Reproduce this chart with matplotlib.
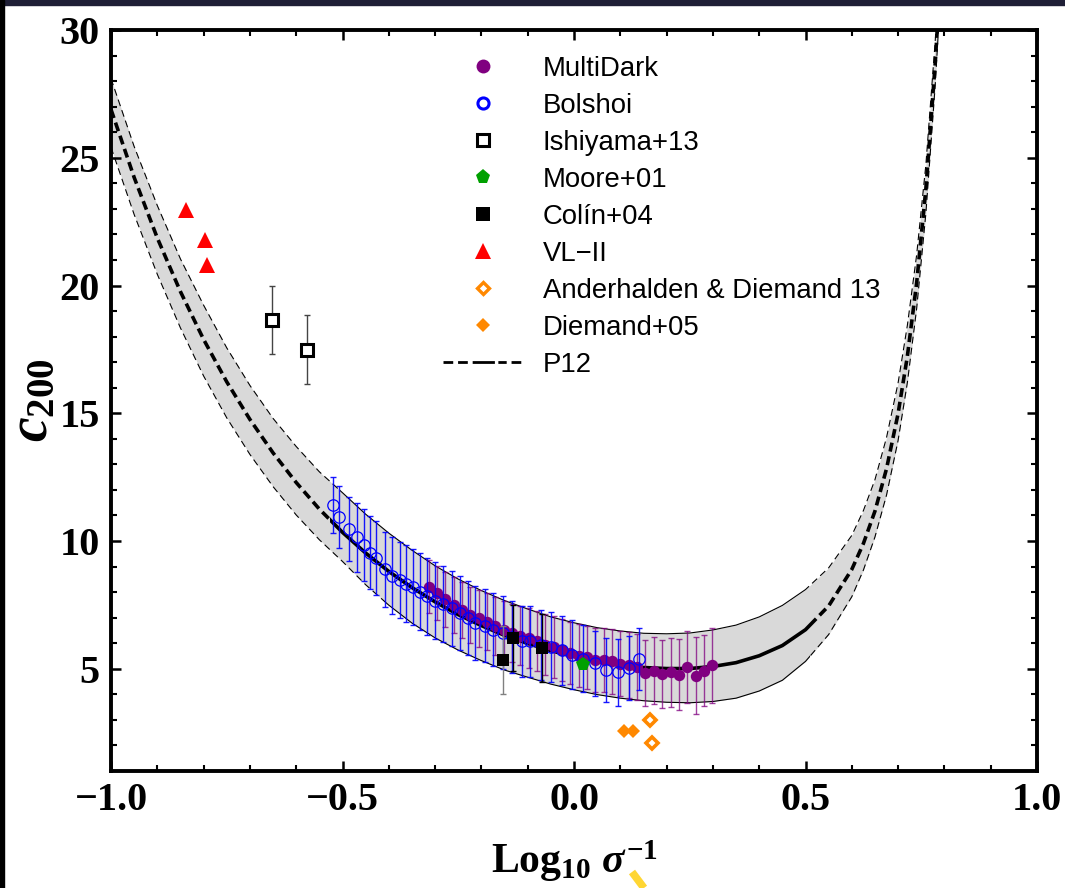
import matplotlib
matplotlib.use("Agg")
import matplotlib.pyplot as plt
from matplotlib.lines import Line2D
from matplotlib.patches import Rectangle
from matplotlib.ticker import MultipleLocator
from matplotlib.font_manager import FontProperties

# ---------------------------------------------------------------- data
# P12 concentration-sigma relation: central curve and scatter band
p12_x = [-1.0, -0.95, -0.9, -0.85, -0.8, -0.75, -0.7, -0.65, -0.6, -0.55,
         -0.5, -0.45, -0.4, -0.35, -0.3, -0.25, -0.2, -0.15, -0.1, -0.05,
         0.0, 0.05, 0.1, 0.15, 0.2, 0.25, 0.3, 0.35, 0.4, 0.45,
         0.5, 0.55, 0.6, 0.625, 0.65, 0.675, 0.7, 0.72, 0.74, 0.76,
         0.78, 0.79]
p12_c = [26.89, 24.23, 21.86, 19.76, 17.89, 16.23, 14.76, 13.45, 12.29, 11.25,
         10.34, 9.53, 8.81, 8.18, 7.62, 7.12, 6.69, 6.31, 5.99, 5.71,
         5.48, 5.29, 5.15, 5.05, 5.01, 5.01, 5.09, 5.24, 5.51, 5.91,
         6.53, 7.46, 8.89, 9.90, 11.17, 12.83, 14.99, 17.23, 20.09, 23.78,
         28.66, 31.68]
p12_upper = [28.10, 25.44, 23.13, 21.04, 19.23, 17.56, 16.09, 14.80, 13.70, 12.71,
             11.89, 11.05, 10.31, 9.64, 9.03, 8.51, 8.06, 7.67, 7.34, 7.03,
             6.80, 6.61, 6.48, 6.39, 6.37, 6.40, 6.52, 6.71, 7.03, 7.48,
             8.10, 8.95, 10.22, 11.19, 12.40, 14.05, 16.19, 18.44, 21.19, 24.73,
             29.52, 32.47]
p12_lower = [25.41, 22.78, 20.44, 18.34, 16.46, 14.82, 13.39, 12.13, 11.02, 10.05,
             9.20, 8.29, 7.49, 6.79, 6.21, 5.73, 5.32, 4.95, 4.67, 4.40,
             4.18, 3.99, 3.85, 3.75, 3.69, 3.67, 3.72, 3.85, 4.13, 4.55,
             5.29, 6.34, 7.82, 8.86, 10.16, 11.80, 13.94, 16.20, 19.09, 22.83,
             27.80, 30.89]

# MultiDark
md_x = [-0.314, -0.296, -0.278, -0.260, -0.242, -0.224, -0.206, -0.188, -0.170,
        -0.152, -0.134, -0.116, -0.098, -0.080, -0.062, -0.044, -0.026, -0.008,
        0.010, 0.028, 0.046, 0.064, 0.082, 0.100, 0.118, 0.136, 0.154, 0.172,
        0.190, 0.209, 0.227, 0.245, 0.263, 0.281, 0.299]
md_c = [8.22, 7.98, 7.72, 7.50, 7.30, 7.12, 6.98, 6.85, 6.68,
        6.52, 6.40, 6.30, 6.20, 6.08, 5.95, 5.85, 5.75, 5.62,
        5.52, 5.45, 5.35, 5.35, 5.29, 5.20, 5.15, 5.07, 4.83, 4.93,
        4.80, 4.86, 4.77, 5.07, 4.73, 4.93, 5.13]
md_err = [1.05, 1.06, 1.07, 1.08, 1.09, 1.10, 1.11, 1.12, 1.13,
          1.14, 1.15, 1.16, 1.17, 1.18, 1.19, 1.20, 1.21, 1.22,
          1.23, 1.24, 1.25, 1.26, 1.27, 1.28, 1.29, 1.30, 1.30, 1.32,
          1.33, 1.35, 1.38, 1.40, 1.50, 1.38, 1.45]

# Bolshoi
bol_x = [-0.520, -0.507, -0.485, -0.468, -0.453, -0.441, -0.428, -0.408, -0.394,
         -0.376, -0.363, -0.347, -0.333, -0.318, -0.300, -0.282, -0.264, -0.246,
         -0.228, -0.214, -0.192, -0.174, -0.154, -0.133, -0.113, -0.094, -0.072,
         -0.050, -0.027, -0.005, 0.020, 0.045, 0.069, 0.094, 0.119, 0.141]
bol_c = [11.42, 10.94, 10.47, 10.15, 9.84, 9.55, 9.32, 8.90, 8.64,
         8.48, 8.33, 8.20, 8.02, 7.83, 7.67, 7.54, 7.37, 7.18,
         6.98, 6.79, 6.68, 6.53, 6.42, 6.25, 6.07, 6.07, 5.95,
         5.85, 5.72, 5.55, 5.40, 5.22, 4.96, 4.86, 5.03, 5.38]
bol_err = [1.10, 1.20, 1.27, 1.35, 1.40, 1.42, 1.45, 1.47, 1.50,
           1.50, 1.50, 1.50, 1.50, 1.50, 1.50, 1.48, 1.47, 1.46,
           1.45, 1.44, 1.43, 1.42, 1.41, 1.40, 1.39, 1.38, 1.37,
           1.36, 1.35, 1.34, 1.32, 1.27, 1.25, 1.30, 1.25, 1.22]

# Ishiyama+13
ish_x = [-0.653, -0.577]
ish_c = [18.65, 17.48]
ish_err = [1.33, 1.35]

# Moore+01
moore_x = [0.020]
moore_c = [5.20]

# Colin+04
colin_x = [-0.153, -0.131, -0.070]
colin_c = [5.35, 6.20, 5.81]
colin_err = [1.34, 1.30, 1.34]
colin_ecolors = ["#808080", "black", "black"]

# VL-II
vl_x = [-0.838, -0.797, -0.793]
vl_c = [22.96, 21.78, 20.81]

# Anderhalden & Diemand 13
ad_x = [0.164, 0.169]
ad_c = [2.98, 2.09]

# Diemand+05
d05_x = [0.108, 0.128]
d05_c = [2.55, 2.55]

legend_labels = ["MultiDark", "Bolshoi", "Ishiyama+13", "Moore+01", "Colín+04",
                 "VL\u2212II", "Anderhalden & Diemand 13", "Diemand+05", "P12"]
xtick_vals = [-1.0, -0.5, 0.0, 0.5, 1.0]
xtick_labels = ["\u22121.0", "\u22120.5", "0.0", "0.5", "1.0"]
ytick_vals = [5, 10, 15, 20, 25, 30]
ytick_labels = ["5", "10", "15", "20", "25", "30"]

# ---------------------------------------------------------------- style
PURPLE = "#800080"
BLUE = "#0000ff"
GREEN = "#00a000"
RED = "#ff0000"
ORANGE = "#ff8800"
BAND = "#d9d9d9"

plt.rcParams.update({
    "font.family": "Liberation Serif",
    "font.weight": "bold",
    "mathtext.fontset": "custom",
    "mathtext.rm": "Liberation Serif:bold",
    "mathtext.bf": "Liberation Serif:bold",
    "mathtext.it": "Liberation Serif:italic:bold",
    "lines.scale_dashes": False,
})

fig = plt.figure(figsize=(10.65, 8.88), dpi=100)
ax = fig.add_axes([0.10423, 0.13176, 0.86948, 0.83446])
ax.set_xlim(-1.0, 1.0)
ax.set_ylim(1.0, 30.0)


def split_line(x, y, lo, hi, lw, dashes, z):
    """Solid between lo and hi, dashed elsewhere."""
    y0, y1 = ax.get_ylim()
    solid, = ax.plot(x, y, color="black", lw=lw, solid_capstyle="butt", zorder=z)
    solid.set_clip_path(Rectangle((lo, y0), hi - lo, y1 - y0, transform=ax.transData))
    for a, b in [(-1.0, lo), (hi, 1.0)]:
        d, = ax.plot(x, y, color="black", lw=lw, dashes=dashes,
                     dash_capstyle="butt", zorder=z)
        d.set_clip_path(Rectangle((a, y0), b - a, y1 - y0, transform=ax.transData))


# P12 band and curves
ax.fill_between(p12_x, p12_lower, p12_upper, color=BAND, lw=0, zorder=1)
split_line(p12_x, p12_upper, -0.505, 0.50, 0.8, (5, 3), 2)
split_line(p12_x, p12_lower, -0.41, 0.51, 0.8, (5, 3), 2)
split_line(p12_x, p12_c, -0.527, 0.516, 2.6, (6.5, 3.5), 3)

# MultiDark
ax.errorbar(md_x, md_c, yerr=md_err, fmt="none", ecolor=PURPLE, alpha=0.75,
            elinewidth=1.0, capsize=2.5, capthick=1.0, zorder=4)
ax.plot(md_x, md_c, "o", color=PURPLE, ms=8.2, mew=0, zorder=5)

# Bolshoi
ax.errorbar(bol_x, bol_c, yerr=bol_err, fmt="none", ecolor=BLUE, alpha=0.9,
            elinewidth=1.0, capsize=2.5, capthick=1.0, zorder=6)
ax.plot(bol_x, bol_c, "o", mfc="none", mec=BLUE, ms=8.2, mew=0.9, zorder=7)

# Colin+04
for xi, ci, ei, ec in zip(colin_x, colin_c, colin_err, colin_ecolors):
    ax.errorbar([xi], [ci], yerr=[ei], fmt="none", ecolor=ec,
                elinewidth=1.0, capsize=2.5, capthick=1.0, zorder=8)
ax.plot(colin_x, colin_c, "s", color="black", ms=8.2, mew=0, zorder=9)

# Moore+01
ax.plot(moore_x, moore_c, "p", color=GREEN, ms=10.5, mew=0, zorder=9)

# Ishiyama+13
ax.errorbar(ish_x, ish_c, yerr=ish_err, fmt="none", ecolor="#444444",
            elinewidth=1.0, capsize=2.5, capthick=1.0, zorder=8)
ax.plot(ish_x, ish_c, "s", mfc="white", mec="black", ms=8.0, mew=2.2, zorder=9)

# VL-II
ax.plot(vl_x, vl_c, "^", color=RED, ms=11, mew=0, zorder=9)

# Anderhalden & Diemand 13, Diemand+05
ax.plot(ad_x, ad_c, "D", mfc="white", mec=ORANGE, ms=6.5, mew=2.6, zorder=9)
ax.plot(d05_x, d05_c, "D", color=ORANGE, ms=7.2, mew=0, zorder=9)

# ---------------------------------------------------------------- axes
ax.set_xticks(xtick_vals)
ax.set_xticklabels(xtick_labels)
ax.set_yticks(ytick_vals)
ax.set_yticklabels(ytick_labels)
ax.xaxis.set_minor_locator(MultipleLocator(0.1))
ax.yaxis.set_minor_locator(MultipleLocator(1))
ax.tick_params(which="both", direction="in", top=True, right=True)
ax.tick_params(which="major", length=7, width=1.8, labelsize=29, pad=8)
ax.tick_params(which="minor", length=4, width=1.5)
for lab in ax.get_xticklabels() + ax.get_yticklabels():
    lab.set_fontweight("bold")
for sp in ax.spines.values():
    sp.set_linewidth(2.8)

ax.set_xlabel(r"$\mathrm{Log}_{10}\ \sigma^{-1}$", fontsize=30, labelpad=14)
ax.set_ylabel(r"$c_{200}$", fontsize=40, labelpad=0.5)

# ---------------------------------------------------------------- legend
handles = [
    Line2D([], [], ls="none", marker="o", color=PURPLE, ms=10, mew=0),
    Line2D([], [], ls="none", marker="o", mfc="white", mec=BLUE, ms=8, mew=2.2),
    Line2D([], [], ls="none", marker="s", mfc="white", mec="black", ms=8, mew=2.2),
    Line2D([], [], ls="none", marker="p", color=GREEN, ms=11, mew=0),
    Line2D([], [], ls="none", marker="s", color="black", ms=10, mew=0),
    Line2D([], [], ls="none", marker="^", color=RED, ms=11, mew=0),
    Line2D([], [], ls="none", marker="D", mfc="white", mec=ORANGE, ms=6.2, mew=2.4),
    Line2D([], [], ls="none", marker="D", color=ORANGE, ms=7.2, mew=0),
    Line2D([], [], color="black", lw=2.0,
           dashes=[7, 3.5, 7, 3.5, 16, 2.5, 6, 3.5, 7, 30]),
]
ax.legend(handles, legend_labels, loc="upper left", bbox_to_anchor=(0.3585, 0.965),
          frameon=False,
          prop=FontProperties(family="Liberation Sans", size=19.8, weight="normal"),
          handlelength=2.9, handletextpad=0.72, labelspacing=0.40,
          borderpad=0, borderaxespad=0, numpoints=1)

# ---------------------------------------------------------------- frame edges
fig.patches.append(Rectangle((0, 1 - 5 / 888), 1, 5 / 888, transform=fig.transFigure,
                             color="#1f1f36", zorder=0))
fig.patches.append(Rectangle((0, 0), 4 / 1065, 1, transform=fig.transFigure,
                             color="black", zorder=0))
fig.lines.append(Line2D([632 / 1065, 644 / 1065], [1 - 872 / 888, 0.0],
                        transform=fig.transFigure, color="#ffd633", lw=5.5,
                        solid_capstyle="butt"))

fig.savefig("out.png", dpi=100)
